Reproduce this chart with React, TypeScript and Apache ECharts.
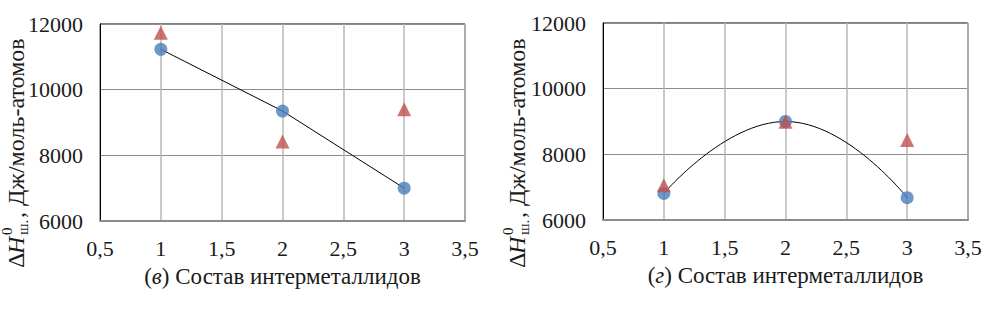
import React, { useEffect, useRef } from "react";
import * as echarts from "echarts";

const xTicks = [0.5, 1, 1.5, 2, 2.5, 3, 3.5];
const compositions = [1, 2, 3];
// Left chart (в)
const leftBlue = [11230, 9350, 7000];
const leftRed = [11730, 8420, 9400];
// Right chart (г)
const rightBlue = [6810, 9000, 6680];
const rightRed = [7060, 8990, 8440];

const yMin = 6000;
const yMax = 12000;
const yStep = 2000;

const FONT = "Liberation Serif";
const TXT = "#1a1a1a";
const BLUE = "#4a7ebb";
const RED = "#c0504d";

const fmt = (v: number) => String(v).replace(".", ",");

function yName(x: number, y: number) {
  const base = { fill: TXT, verticalAlign: "middle", align: "left", fontFamily: FONT };
  return {
    type: "group",
    x,
    y,
    rotation: Math.PI / 2,
    children: [
      { type: "text", x: 0, y: 0, style: { ...base, text: "Δ", fontSize: 24 } },
      { type: "text", x: 14, y: 0, style: { ...base, text: "H", fontSize: 24, fontStyle: "italic" } },
      { type: "text", x: 33, y: -9, style: { ...base, text: "0", fontSize: 15 } },
      { type: "text", x: 33, y: 7, style: { ...base, text: "ш.", fontSize: 15 } },
      { type: "text", x: 50, y: 0, style: { ...base, text: ", Дж/моль-атомов", fontSize: 24 } },
    ],
  };
}

export default function App() {
  const ref = useRef<HTMLDivElement>(null);
  useEffect(() => {
    if (!ref.current) return;
    const chart = echarts.init(ref.current, undefined, { renderer: "svg" });
    const grids = [
      { left: 100, top: 24, width: 365, height: 197 },
      { left: 603, top: 23, width: 365, height: 197 },
    ];
    const xAxis = [0, 1].map((i) => ({
      type: "value",
      gridIndex: i,
      min: xTicks[0],
      max: xTicks[xTicks.length - 1],
      interval: 0.5,
      axisLine: { show: true, onZero: false, lineStyle: { color: "#8c8c8c", width: 2 } },
      axisTick: { show: false },
      axisLabel: { formatter: fmt, fontFamily: FONT, fontSize: 22, color: TXT, margin: 16, showMaxLabel: true, showMinLabel: true },
      splitLine: { show: true, lineStyle: { color: "#b8b8b8", width: 1.5 } },
      name: i === 0 ? "{n|(}{i|в}{n|)} Состав интерметаллидов" : "{n|(}{i|г}{n|)} Состав интерметаллидов",
      nameLocation: "middle",
      nameGap: 44,
      nameTextStyle: {
        fontFamily: FONT,
        fontSize: 23,
        color: TXT,
        rich: {
          i: { fontFamily: FONT, fontSize: 23, fontStyle: "italic", color: TXT },
          n: { fontFamily: FONT, fontSize: 23, color: TXT },
        },
      },
    }));
    const yAxis = [0, 1].map((i) => ({
      type: "value",
      gridIndex: i,
      min: yMin,
      max: yMax,
      interval: yStep,
      axisLine: { show: true, lineStyle: { color: "#000", width: 1 } },
      axisTick: { show: false },
      axisLabel: { formatter: (v: number) => String(v), fontFamily: FONT, fontSize: 22, color: TXT, margin: 17 },
      splitLine: { show: true, lineStyle: { color: "#8c8c8c", width: 1 } },
    }));
    const pts = (ys: number[]) => compositions.map((c, k) => [c, ys[k]]);
    chart.setOption({
      animation: false,
      grid: grids.map((g) => ({ ...g, show: true, borderColor: "#000", borderWidth: 1, backgroundColor: "transparent" })),
      xAxis,
      yAxis,
      series: [
        { type: "line", xAxisIndex: 0, yAxisIndex: 0, data: pts(leftBlue), showSymbol: false, lineStyle: { color: "#000", width: 1 }, z: 2 },
        { type: "scatter", xAxisIndex: 0, yAxisIndex: 0, data: pts(leftBlue), symbol: "circle", symbolSize: 13, itemStyle: { color: BLUE }, z: 3 },
        { type: "scatter", xAxisIndex: 0, yAxisIndex: 0, data: pts(leftRed), symbol: "triangle", symbolSize: 14, itemStyle: { color: RED }, z: 3 },
        { type: "line", xAxisIndex: 1, yAxisIndex: 1, data: pts(rightBlue), smooth: true, showSymbol: false, lineStyle: { color: "#000", width: 1 }, z: 2 },
        { type: "scatter", xAxisIndex: 1, yAxisIndex: 1, data: pts(rightBlue), symbol: "circle", symbolSize: 13, itemStyle: { color: BLUE }, z: 3 },
        { type: "scatter", xAxisIndex: 1, yAxisIndex: 1, data: pts(rightRed), symbol: "triangle", symbolSize: 14, itemStyle: { color: RED }, z: 4 },
      ],
      graphic: [yName(16, 268), yName(517, 268)],
    });
    return () => chart.dispose();
  }, []);
  return <div ref={ref} style={{ position: "fixed", left: 0, top: 0, width: 1003, height: 313, background: "#fff" }} />;
}
